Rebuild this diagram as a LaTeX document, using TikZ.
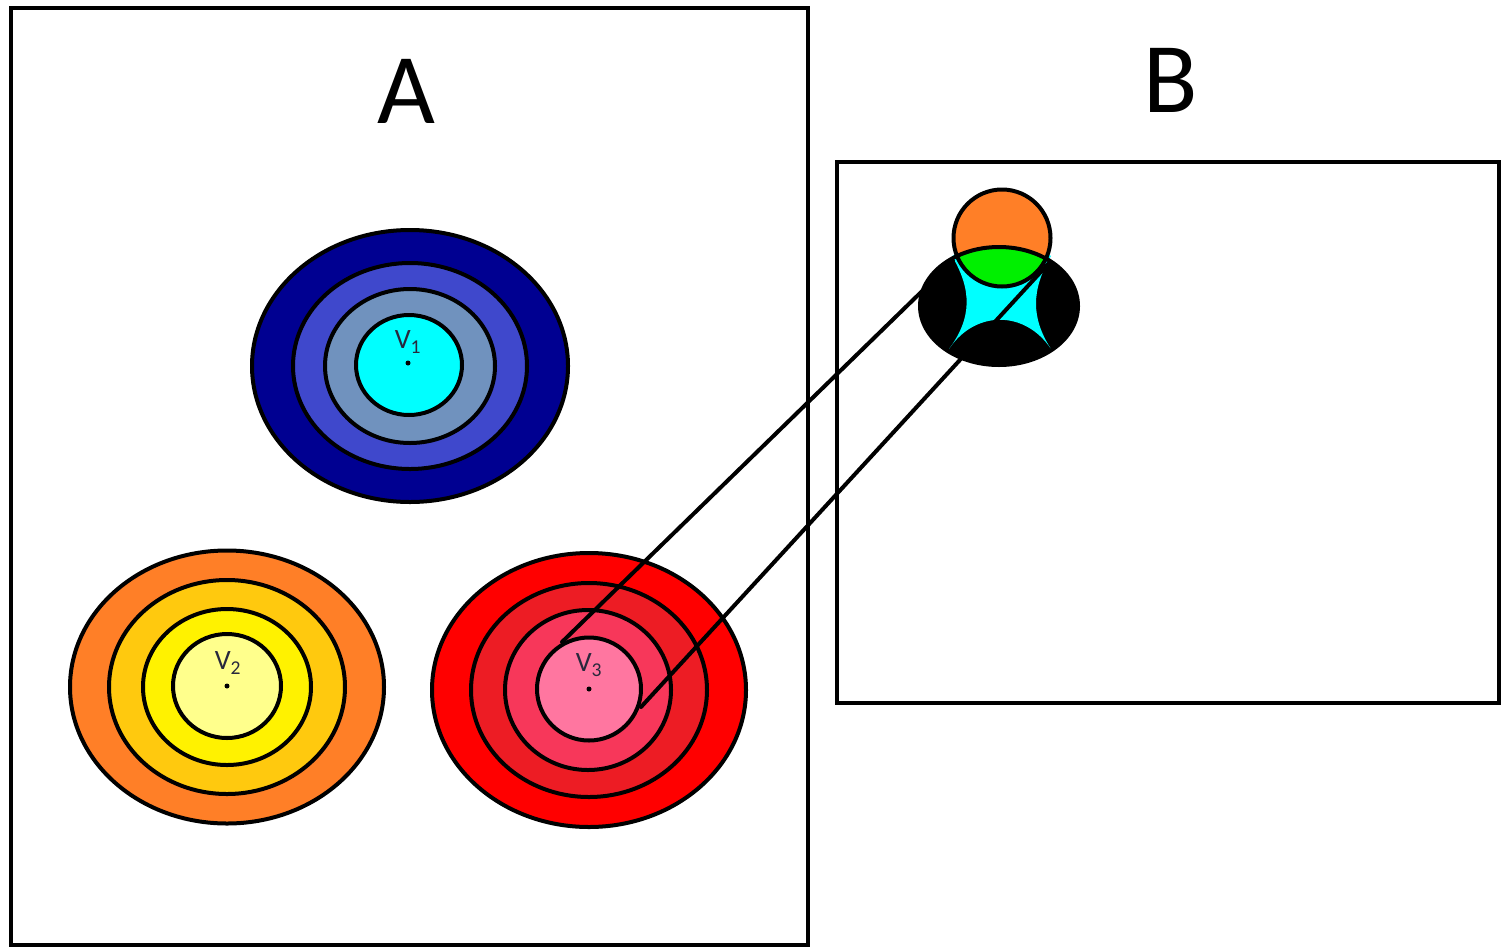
\documentclass[tikz,border=0pt]{standalone}
\usepackage{fontspec}
\setmainfont{Carlito}
\usetikzlibrary{shapes.geometric}
\definecolor{navyc}{RGB}{0,0,145}
\definecolor{indigoc}{RGB}{63,72,204}
\definecolor{bluegrayc}{RGB}{112,146,190}
\definecolor{cyanc}{RGB}{0,255,255}
\definecolor{orangec}{RGB}{255,127,39}
\definecolor{goldc}{RGB}{255,201,14}
\definecolor{yellowc}{RGB}{255,242,0}
\definecolor{lightyellowc}{RGB}{255,255,140}
\definecolor{redc}{RGB}{255,0,0}
\definecolor{red2c}{RGB}{237,28,36}
\definecolor{pinkredc}{RGB}{247,55,90}
\definecolor{pinkc}{RGB}{255,118,160}
\definecolor{greenc}{RGB}{0,240,0}
\definecolor{labelc}{RGB}{40,40,60}
\tikzset{
  ring/.style={ellipse, draw=black, line width=4pt, inner sep=0pt},
  frame/.style={draw=black, line width=4pt},
  link/.style={draw=black, line width=4pt, line cap=round},
  vlabel/.style={text=labelc, font=\fontsize{28}{30}\selectfont, inner sep=0pt},
  biglabel/.style={text=black, font=\fontsize{100}{110}\selectfont, inner sep=0pt},
  centerdot/.style={circle, fill=black, inner sep=0pt, minimum size=5pt}
}
\begin{document}
\begin{tikzpicture}[x=1pt,y=-1pt]
\useasboundingbox (0,0) rectangle (1501,948);
\fill[white] (0,0) rectangle (1501,948);
% frames
\draw[frame] (11,7.5) rectangle (808,945);
\draw[frame] (837,162) rectangle (1499,703);
\node[biglabel] (la) at (406,91) {A};
\node[biglabel] (lb) at (1171,80) {B};
% V1 group
\node[ring, fill=navyc, minimum width=316pt, minimum height=272pt] (v1a) at (410,366) {};
\node[ring, fill=indigoc, minimum width=234pt, minimum height=206pt] (v1b) at (410,366) {};
\node[ring, fill=bluegrayc, minimum width=170pt, minimum height=154pt] (v1c) at (410,366) {};
\node[ring, fill=cyanc, minimum width=106pt, minimum height=100pt] (v1d) at (409,365) {};
\node[centerdot] (d1) at (408,363) {};
\node[vlabel] (t1) at (408,342) {V\textsubscript{1}};
% V2 group
\node[ring, fill=orangec, minimum width=314pt, minimum height=273pt] (v2a) at (227,687) {};
\node[ring, fill=goldc, minimum width=236pt, minimum height=214pt] (v2b) at (227,687) {};
\node[ring, fill=yellowc, minimum width=168pt, minimum height=156pt] (v2c) at (227,687) {};
\node[ring, fill=lightyellowc, minimum width=108pt, minimum height=104pt] (v2d) at (227,686) {};
\node[centerdot] (d2) at (227,686) {};
\node[vlabel] (t2) at (228,663) {V\textsubscript{2}};
% V3 group
\node[ring, fill=redc, minimum width=314pt, minimum height=274pt] (v3a) at (589,690) {};
\node[ring, fill=red2c, minimum width=236pt, minimum height=214pt] (v3b) at (589,690) {};
\node[ring, fill=pinkredc, minimum width=166pt, minimum height=160pt] (v3c) at (588,690) {};
\node[ring, fill=pinkc, minimum width=104pt, minimum height=103pt] (v3d) at (589,689) {};
\node[centerdot] (d3) at (589,689) {};
\node[vlabel] (t3) at (589,665) {V\textsubscript{3}};
% B figure
\fill[black] (999,306) ellipse [x radius=79pt, y radius=59pt];
\fill[cyanc] (952,256) .. controls (972,290) and (972,318) .. (949,349)
   .. controls (975,310) and (1025,310) .. (1051,349)
   .. controls (1031,318) and (1031,290) .. (1051,256)
   .. controls (1030,243) and (975,243) .. cycle;
\fill[orangec] (1002,238) circle [radius=48.5pt];
\begin{scope}
  \clip (999,306) ellipse [x radius=79pt, y radius=59pt];
  \fill[greenc] (1002,238) circle [radius=48.5pt];
\end{scope}
\draw[black, line width=4pt] (999,306) ellipse [x radius=79pt, y radius=59pt];
\draw[black, line width=4pt] (1002,238) circle [radius=48.5pt];
% connectors
\coordinate (p1) at (562,642);
\coordinate (q1) at (953,261);
\coordinate (p2) at (641,707);
\coordinate (q2) at (1049,263);
\draw[link] (p1) -- (q1);
\draw[link] (p2) -- (q2);
\end{tikzpicture}
\end{document}
